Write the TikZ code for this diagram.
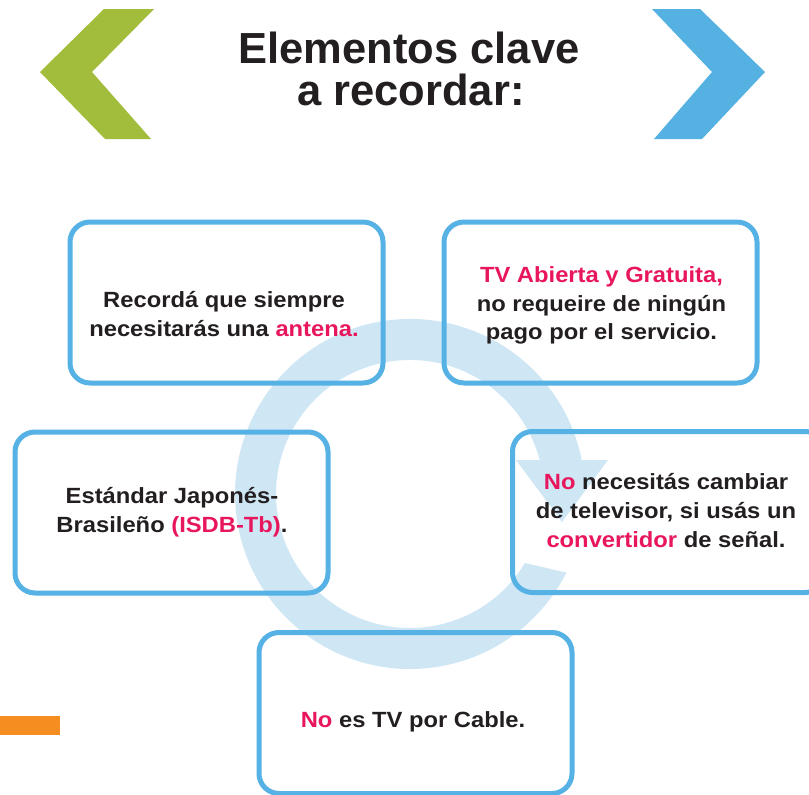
\documentclass[tikz,border=0pt]{standalone}
\usepackage{fontspec}
\setmainfont{Liberation Sans}
\newfontfamily\bodyfont[FakeStretch=1.08]{Liberation Sans}
\definecolor{ringblue}{HTML}{CFE7F5}
\definecolor{boxblue}{HTML}{56B2E4}
\definecolor{accent}{HTML}{E8175D}
\definecolor{leafgreen}{HTML}{A2BD3C}
\definecolor{skyblue}{HTML}{56B1E3}
\definecolor{orangebar}{HTML}{F58D21}
\definecolor{ink}{HTML}{231F20}
\begin{document}
\begin{tikzpicture}[x=1pt,y=-1pt,
  box/.style={draw=boxblue, line width=5pt, rounded corners=20pt, minimum width=313pt, minimum height=161pt, inner sep=0pt},
  txtline/.style={anchor=base, inner sep=0pt, font=\bodyfont\bfseries\fontsize{22}{26}\selectfont, text=ink},
  titleline/.style={anchor=base, inner sep=0pt, font=\bfseries\fontsize{43.5}{50}\selectfont, text=ink}]
\useasboundingbox (0,0) rectangle (809,795);
\clip (0,0) rectangle (809,795);
\fill[white] (0,0) rectangle (809,795);
% chevrons
\fill[leafgreen] (104,9) -- (154,9) -- (92,72) -- (151,139) -- (105,139) -- (40,72) -- cycle;
\fill[skyblue] (652,9) -- (700,9) -- (765,72) -- (702,139) -- (654,139) -- (712,72) -- cycle;
% title
\node[titleline] (title1) at (409,63) {Elementos clave};
\node[titleline] (title2) at (411,105) {a recordar:};
% circular arrow
\fill[ringblue] (581.7,460) arc[start angle=-11.2, end angle=-333.3, radius=175]
  -- (524.9,563) arc[start angle=-329, end angle=-14.7, radius=134] -- cycle;
\fill[ringblue] (516,460) -- (608,460) -- (562,522) -- cycle;
% orange bar
\fill[orangebar] (0,716) rectangle (60,735);
% boxes
\node[box] (b1) at (226.5,302.5) {};
\node[box] (b2) at (600.5,302.5) {};
\node[box] (b3) at (171.5,512.5) {};
\node[box] (b4) at (669,512) {};
\node[box] (b5) at (415.5,713) {};
% texts
\node[txtline] (t1a) at (224,307) {Recordá que siempre};
\node[txtline] (t1b) at (224,336) {necesitarás una \textcolor{accent}{antena.}};
\node[txtline, text=accent] (t2a) at (601.5,282) {TV Abierta y Gratuita,};
\node[txtline] (t2b) at (601.5,311) {no requeire de ningún};
\node[txtline] (t2c) at (601.5,339) {pago por el servicio.};
\node[txtline] (t3a) at (172,503) {Estándar Japonés-};
\node[txtline] (t3b) at (172,532) {Brasileño \textcolor{accent}{(ISDB-Tb)}.};
\node[txtline] (t4a) at (666,489) {\textcolor{accent}{No} necesitás cambiar};
\node[txtline] (t4b) at (666,518) {de televisor, si usás un};
\node[txtline] (t4c) at (666,547) {\textcolor{accent}{convertidor} de señal.};
\node[txtline] (t5a) at (413,727) {\textcolor{accent}{No} es TV por Cable.};
\end{tikzpicture}
\end{document}
